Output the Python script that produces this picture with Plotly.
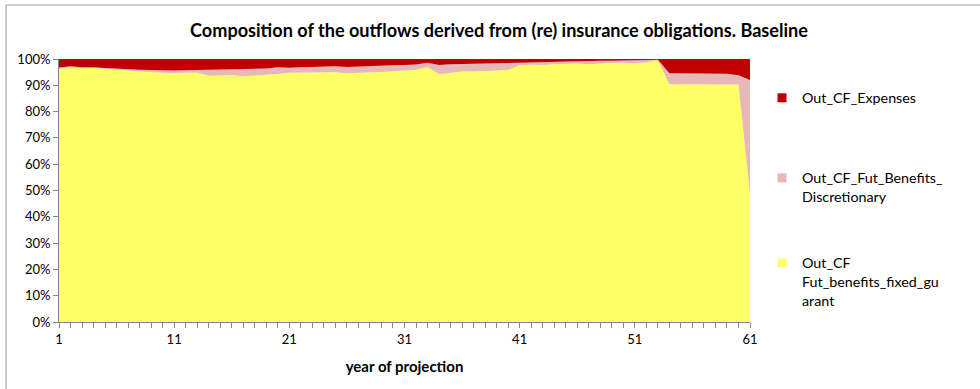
import plotly.graph_objects as go

years = list(range(1, 62))

fixed_guarant = [96.2, 96.9, 96.5, 96.6, 96.3, 95.9, 95.6, 95.3, 95.0, 94.8,
                 94.7, 94.8, 94.8, 93.6, 93.7, 93.9, 93.4, 93.7, 93.9, 94.3,
                 94.8, 94.9, 94.9, 94.9, 95.0, 94.6, 94.7, 94.9, 95.1, 95.3,
                 95.5, 95.9, 96.9, 94.3, 94.7, 95.2, 95.2, 95.3, 95.6, 95.9,
                 97.6, 97.8, 97.7, 98.0, 98.1, 98.3, 98.0, 98.3, 98.5, 98.6,
                 98.4, 98.7, 99.5, 90.4, 90.4, 90.4, 90.4, 90.4, 90.4, 90.3,
                 48.5]
discretionary = [0.6, 0.3, 0.4, 0.3, 0.3, 0.4, 0.5, 0.6, 0.8, 0.8,
                 0.9, 0.9, 1.0, 2.3, 2.2, 2.1, 2.6, 2.5, 2.5, 2.6,
                 1.9, 2.0, 2.1, 2.2, 2.2, 2.4, 2.5, 2.4, 2.3, 2.3,
                 2.2, 2.0, 1.7, 3.4, 3.3, 2.9, 3.0, 3.0, 2.8, 2.6,
                 1.1, 1.1, 1.3, 1.1, 1.0, 0.9, 1.2, 1.0, 0.8, 0.8,
                 1.0, 0.8, 0.2, 4.2, 4.2, 4.2, 4.1, 4.1, 4.0, 3.5,
                 43.5]
expenses = [3.2, 2.8, 3.1, 3.1, 3.4, 3.7, 3.9, 4.1, 4.2, 4.4,
            4.4, 4.3, 4.2, 4.1, 4.1, 4.0, 4.0, 3.8, 3.6, 3.1,
            3.3, 3.1, 3.0, 2.9, 2.8, 3.0, 2.8, 2.7, 2.6, 2.4,
            2.3, 2.1, 1.4, 2.3, 2.0, 1.9, 1.8, 1.7, 1.6, 1.5,
            1.3, 1.1, 1.0, 0.9, 0.9, 0.8, 0.8, 0.7, 0.7, 0.6,
            0.6, 0.5, 0.3, 5.4, 5.4, 5.4, 5.5, 5.5, 5.6, 6.2,
            8.0]

series_names = ["Out_CF<br>Fut_benefits_fixed_gu<br>arant",
                "Out_CF_Fut_Benefits_<br>Discretionary",
                "Out_CF_Expenses"]
colors = ["#FFFF66", "#E6B9B8", "#C00000"]
legend_ids = ["legend3", "legend2", "legend"]

FONT = "Lato"

fig = go.Figure()
for i, vals in enumerate([fixed_guarant, discretionary, expenses]):
    fig.add_trace(go.Scatter(
        x=years, y=vals, name=series_names[i], mode="lines",
        stackgroup="one", groupnorm="percent",
        line=dict(width=0, color=colors[i]), fillcolor=colors[i],
        showlegend=False, hoverinfo="skip",
    ))
# legend swatches (small squares like the original)
for i in range(3):
    fig.add_trace(go.Scatter(
        x=[None], y=[None], name=series_names[i], mode="markers",
        marker=dict(color=colors[i], symbol="square", size=9, line=dict(width=0)),
        showlegend=True, legend=legend_ids[i], hoverinfo="skip",
    ))

W, H = 980, 389
L, R, T, B = 59, 230, 59, 67
pw, ph = W - L - R, H - T - B

def ly(top_px):
    return (H - B - top_px) / ph

leg_common = dict(x=(762 - L) / pw, xanchor="left", yanchor="top", valign="top",
                  font=dict(family=FONT, size=14.3, color="black"),
                  bgcolor="rgba(0,0,0,0)", itemwidth=30)

fig.update_layout(
    width=W, height=H,
    margin=dict(l=L, r=R, t=T, b=B, autoexpand=False),
    paper_bgcolor="white", plot_bgcolor="white",
    font=dict(family=FONT, size=13, color="black"),
    title=dict(text="<b>Composition of the outflows derived from (re) insurance obligations. Baseline</b>",
               x=499 / W, xanchor="center", xref="container",
               y=1 - 31 / H, yanchor="middle", yref="container",
               font=dict(family=FONT, size=18.1, color="black")),
    showlegend=True,
    legend=dict(y=ly(82), **leg_common),
    legend2=dict(y=ly(162), **leg_common),
    legend3=dict(y=ly(247), **leg_common),
    xaxis=dict(range=[1, 61], tick0=1, dtick=10, ticks="outside", ticklen=5,
               tickcolor="#868686", showline=True, linecolor="#868686", linewidth=1,
               showgrid=False, zeroline=False, automargin=False,
               minor=dict(ticks="outside", dtick=1, tick0=1, ticklen=5, tickcolor="#868686", showgrid=False),
               title=dict(text="<b>year of projection</b>", font=dict(family=FONT, size=15), standoff=15),
               tickfont=dict(family=FONT, size=13)),
    yaxis=dict(range=[0, 100], dtick=10, ticksuffix="%", ticks="outside", ticklen=5,
               tickcolor="#868686", showline=True, linecolor="#868686", linewidth=1,
               showgrid=False, zeroline=False, automargin=False,
               tickfont=dict(family=FONT, size=13)),
    shapes=[dict(type="rect", xref="paper", yref="paper",
                 x0=(6 - L) / pw, x1=(995 - L) / pw,
                 y0=(H - B - 400) / ph, y1=(H - B - 5) / ph,
                 line=dict(color="#9A9A9A", width=1), fillcolor="rgba(0,0,0,0)", layer="below")],
)

fig.write_html("out.html", config={"displayModeBar": False},
               post_script="document.body.style.margin='0';document.body.style.padding='0';")
